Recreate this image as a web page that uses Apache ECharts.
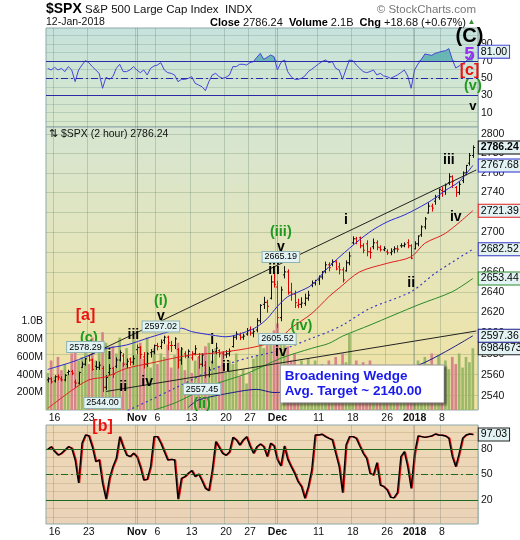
<!DOCTYPE html>
<html><head><meta charset="utf-8">
<script src="https://cdn.jsdelivr.net/npm/echarts@6/dist/echarts.min.js"></script>
<style>html,body{margin:0;padding:0;background:#fff}#c{width:520px;height:540px}</style>
</head><body><div id="c"></div>
<script>
// ---------- DATA ----------
const days = ['10/13','10/16','10/17','10/18','10/19','10/20','10/23','10/24','10/25','10/26','10/27','10/30','10/31',
 '11/01','11/02','11/03','11/06','11/07','11/08','11/09','11/10','11/13','11/14','11/15','11/16','11/17','11/20','11/21','11/22','11/24','11/27','11/28','11/29','11/30',
 '12/01','12/04','12/05','12/06','12/07','12/08','12/11','12/12','12/13','12/14','12/15','12/18','12/19','12/20','12/21','12/22','12/26','12/27','12/28','12/29',
 '01/02','01/03','01/04','01/05','01/08','01/09','01/10','01/11','01/12'];
const halfDays = ['11/24'];
// [open, close, low, high]
const ohlc = [
[2555,2556,2553,2557],[2556,2553.2,2552,2557],
[2554,2558,2553,2559],[2558,2557.6,2555,2559.7],
[2556,2555,2554,2558],[2555,2559.4,2554,2560],
[2562,2563,2560,2564.2],[2563,2561.3,2560,2564],
[2553,2552,2547.9,2555],[2552,2562.1,2551,2562.4],
[2567,2570,2567,2572],[2570,2575.2,2569,2575.4],
[2578,2574,2573,2578.3],[2574,2565,2564.3,2575],
[2568,2567,2565,2572.4],[2567,2569.1,2565,2572],
[2566,2548,2544,2567.9],[2548,2557.2,2546,2559],
[2562,2566,2560,2569.7],[2566,2560.4,2557.4,2567],
[2568,2574,2566.8,2576],[2574,2581.1,2573,2582.9],
[2578,2570,2568,2580],[2570,2572.8,2566.6,2575],
[2575,2572,2569,2576],[2572,2575.3,2570,2578],
[2584,2586,2580,2588.4],[2586,2579.4,2575.5,2587],
[2577,2570,2566.3,2581.1],[2570,2579.9,2568,2581],
[2581,2582,2576.9,2584],[2582,2587.8,2580,2588.4],
[2588,2587,2583.8,2590],[2587,2591.1,2585,2593.3],
[2593,2596,2590,2597],[2596,2590.6,2583.9,2597],
[2588,2588,2582.2,2592],[2588,2594.4,2585,2595.5],
[2584,2574,2566.3,2585],[2574,2584.6,2570,2586],
[2580,2578,2576.2,2582],[2578,2582.3,2576.5,2583.8],
[2576,2580,2574,2582],[2580,2584.8,2579,2587.7],
[2577,2570,2566.2,2580.3],[2570,2578.9,2568,2580],
[2569,2560,2557.45,2572.6],[2560,2564.6,2558,2567],
[2572,2582,2571,2584],[2582,2585.6,2580,2590.1],
[2583,2580,2577,2583.9],[2580,2578.9,2575.6,2582],
[2579,2580,2576.5,2583],[2580,2582.1,2578,2584.6],
[2587,2596,2586.5,2597],[2596,2599,2594,2601.2],
[2598,2596,2593.7,2600],[2596,2597.1,2594,2599],
[2599,2602.4,2598,2604.4],
[2603,2600,2598,2606],[2600,2601.4,2596.4,2604],
[2603,2612,2601.2,2614],[2612,2627,2610,2627.7],
[2628,2630,2624,2634.9],[2630,2626.1,2620.3,2632],
[2634,2650,2633.3,2656],[2650,2647.6,2645,2657.7],
[2645,2615,2605.5,2650.6],[2615,2642.2,2612,2645],
[2657,2660,2654,2665.2],[2660,2639.4,2638,2662],
[2640,2638,2632,2648.7],[2638,2629.6,2624.8,2641],
[2627,2628,2624.7,2633],[2628,2629.3,2625,2634.4],
[2629,2634,2627,2638],[2634,2637,2632,2640.8],
[2647,2649,2645.3,2651],[2649,2651.5,2647,2651.6],
[2652,2655,2647.6,2656],[2655,2660,2653,2660.3],
[2661,2667,2659,2669.7],[2667,2664.1,2661,2669],
[2668,2670,2666,2671.9],[2670,2662.9,2662,2671],
[2665,2662,2658,2668.6],[2662,2652,2650,2664],
[2661,2669,2660.7,2671],[2669,2675.8,2667,2679.6],
[2689,2693,2687.9,2695],[2693,2690.2,2688,2694.5],
[2694,2686,2684,2694.8],[2686,2681.5,2679,2688],
[2688,2680,2676,2691],[2680,2679.3,2673.6,2684],
[2685,2689,2683,2692.8],[2689,2684.6,2682,2691],
[2684,2682,2680.7,2686],[2682,2683.3,2681,2685],
[2680,2679,2677.4,2682],[2679,2680.5,2677,2683],
[2682,2683,2679,2685],[2683,2682.6,2680,2686],
[2686,2686,2684.5,2688],[2686,2687.5,2685,2688.9],
[2689,2686,2684,2692],[2686,2673.6,2673,2687],
[2683,2688,2682.9,2690],[2688,2695.8,2686,2695.9],
[2697,2705,2695.5,2706],[2705,2713,2703,2714.4],
[2719,2726,2719,2729.3],[2726,2724,2721,2728],
[2731,2735,2727.9,2737],[2735,2743.2,2733,2743.4],
[2742,2741,2736,2745],[2741,2747.7,2738,2748.5],
[2750,2756,2748,2759.1],[2756,2751.3,2745,2757],
[2745,2740,2736,2746],[2740,2748.2,2738,2750.8],
[2752,2760,2750,2761],[2760,2767.6,2758,2767.8],
[2770,2778,2768,2780],[2778,2786.24,2776,2787.9]
];
// volume in millions
const volumeM = [
420,560, 380,600, 450,520, 400,640, 700,560, 600,780,
520,820, 560,700, 880,760, 600,720, 640,820,
540,700, 480,800, 620,760, 580,820, 480,700,
520,640, 600,740, 480,620, 760,680, 450,600,
420,560, 600,640, 720,760, 560,700, 500,660,
420,560, 520,640, 380,460, 300,
420,580, 620,760, 700,800, 820,900, 980,800,
760,720, 560,640, 480,560, 460,580, 420,560,
380,520, 420,560, 400,600, 460,640, 540,860,
440,560, 400,540, 420,560, 380,500, 300,420,
220,320, 240,340, 220,300, 260,420,
420,560, 480,600, 520,640, 480,620,
420,560, 460,600, 520,640, 480,600, 540,698.467328
];
const rsi = [
61.6,59.7,62.8,59.7,61.6,57.8,63.6,59.7,46.1,59.7,
65.5,70.5,68.2,63.6,59.7,55.8,38.4,51.2,48.8,51.9,
61.6,66.3,57.8,57.8,59.7,63.6,59.7,56.6,59.7,53.9,
61.6,64.3,65.5,68.2,59.7,56.6,55.8,53.9,46.1,48.8,
48.8,50,51.9,44.2,42.2,40.3,35.6,46.1,53.9,55.8,
51.9,50,51.2,53.9,63.6,63.6,66.3,66.3,65.5,68.2,
69.4,74.4,79,72.1,74.4,77.1,75.2,59.7,68.2,71.3,
57.8,51.9,48.8,48.8,50,52.7,57.8,60.5,63.6,66.7,
69.4,71.3,68.2,69.4,61.6,59.7,48.8,60.5,71.3,70.5,
65.5,61.6,57.8,56.6,57.8,59.7,53.9,55.8,52.7,51.9,
50,51.9,53.9,56.6,59.7,52.7,38.4,59.7,66.7,72.1,
78.3,77.5,76.7,79,80.2,81.4,82.1,84.5,72,62,
64.3,67.4,69.4,74.4,81
];
const stoch = [
79.6,82.7,76.9,72.9,74.9,78.8,82.7,80.8,67.1,40,
86.7,96.5,95.3,82.7,65.1,67.1,39.6,21,45.5,59.2,
69,94.5,82.7,72.9,71,74.9,71,59.2,43.5,44.3,
59.2,94.5,94.5,86.7,76.9,67.1,67.8,67.1,21,45.5,
47.5,51.4,54.5,47.5,50.6,42.7,33.7,31,55.3,88.6,
82,74.9,72.5,76.5,93.7,90.6,84.7,90.6,94.5,83.5,
74.9,82.7,85.9,82.7,71,86.7,83.5,67.1,60,83.5,
67.8,59.2,51.4,41.6,35.7,22,35.7,55.3,96.5,96.5,
97.3,94.5,92.5,90.6,74.9,59.2,28.6,84.7,94.5,94.5,
92.5,83.5,74.9,69,51.4,49.4,63.9,37.6,35.7,31.8,
23.1,22.7,28.6,71,76.9,59.2,33.7,74.9,95.3,94.5,
93.7,94.5,95.3,97.6,96.5,96.1,95.3,92.5,71,59.2,
74.9,92.5,96.5,97.6,97.03
];
// moving averages: [bar index, value]
const ma20 = [[0,2565],[7,2572],[11,2577],[17,2585],[23,2588.5],[30,2596],[35,2601],[39,2604.7],[42,2601.4],[48,2598],[52,2596.4],[58,2601.4],[61,2606],[64,2614],[67,2626],[70,2635.5],[73,2640],[77,2647],[82,2665],[88,2683.5],[94,2700],[99,2710],[104,2717],[108,2724],[112,2732],[116,2742],[120,2751],[124,2767.68]];
const ma50 = [[0,2528],[7,2545],[12,2555],[17,2558],[23,2566],[30,2571],[37,2576],[42,2579],[48,2580.5],[58,2585],[67,2593],[71,2605],[77,2619],[82,2635.5],[85,2644],[91,2660],[99,2668.5],[106,2675],[110,2688.5],[116,2698.5],[124,2721.39]];
const ma100 = [[22,2524],[30,2536],[37,2547],[42,2555],[48,2565],[58,2575.7],[68,2583.6],[77,2595],[82,2601.4],[86,2607.8],[94,2624],[106,2640.4],[113,2658.6],[124,2682.52]];
const ma150 = [[31,2526.5],[37,2533],[42,2540.7],[48,2550],[58,2561],[68,2575.7],[77,2585.3],[82,2590],[86,2597],[94,2607.8],[108,2627.4],[118,2640.4],[124,2653.44]];
const ma200 = [[41,2529],[44,2536],[54,2543],[61,2546],[66,2543],[74,2545],[85,2552],[97,2560],[108,2569],[116,2582],[124,2597.36]];
const upperTrend = [[12,2578.29],[125,2763]];
const lowerTrend = [[17,2544],[125,2602]];
// ticks
const priceTicks = [2540,2560,2580,2600,2620,2640,2660,2680,2700,2720,2740,2760,2780,2800];
const volumeTicks = [200,400,600,800,1000];
const rsiLabels = [10,30,50,70,90];
const stochLabels = [20,50,80];
const gridSteps = [0,10,20,30,40,50,60,70,80,90,100];
const dateTicks = [['10/16','16'],['10/23','23'],['11/01','Nov',1],['11/06','6'],['11/13','13'],['11/20','20'],['11/27','27'],['12/01','Dec',1],['12/11','11'],['12/18','18'],['12/26','26'],['01/02','2018',1],['01/08','8']];
const monthStarts = ['11/01','12/01','01/02'];
// annotations: [text, bar index, value, style]
const mainNotes = [
 ['[a]',11.2,2617.1,'red'],['(c)',11.75,2595.7,'grn'],['2578.29',11.2,2586.5,'box'],
 ['iii',25.2,2598.1,'blk'],['(i)',33.3,2631.2,'grn'],['v',32.9,2616.1,'blk'],['2597.02',33.3,2606.4,'box'],
 ['i',17.6,2578.9,'blk'],['ii',21.7,2548.2,'blk'],['iv',28.7,2553,'blk'],['2544.00',16.3,2533.1,'box'],
 ['i',48.2,2593.3,'blk'],['ii',51.7,2567.3,'blk'],['2557.45',45,2546.3,'box'],['(ii)',45,2532.2,'grn'],
 ['(iii)',67.6,2700.3,'grn'],['v',68,2684.3,'blk'],['2665.19',68.3,2674.8,'box'],['iii',66,2661.9,'blk'],
 ['2605.52',66.9,2594.3,'box'],['iv',67.5,2581.8,'blk'],['(iv)',74.3,2606.9,'grn'],
 ['i',87.3,2712,'blk'],['ii',106,2649,'blk'],['iii',117,2773.3,'blk'],['iv',118.6,2715,'blk']
];
const rsiNotes = [['(C)',122.6,99.2,'bigC'],['5',122.6,77.1,'purple'],['[c]',122.6,58.5,'red'],['(v)',124,40.5,'grn'],['v',124,17.8,'blkS']];
const stochNotes = [['[b]',16.3,106.5,'red']];
const wedgeNote = {lines:['Broadening Wedge','Avg. Target ~ 2140.00'], idx:68.2, value:2551.2};

// ---------- BUILD ----------
const categories = [];
days.forEach(d => { categories.push(d+' AM'); if (halfDays.indexOf(d) < 0) categories.push(d+' PM'); });
categories.push('');
const tickIdx = new Map();
dateTicks.forEach(t => tickIdx.set(categories.indexOf(t[0]+' AM'), t));
const isTick = i => tickIdx.has(i);
const L = Math.log;
const up = ohlc.map((d,i) => d[1] >= (i ? ohlc[i-1][1] : d[0]));
const FONT = 'Liberation Sans, Arial, sans-serif';

const styles = {
 blk:{color:'#000',fontWeight:'bold',fontSize:14},
 blkS:{color:'#000',fontWeight:'bold',fontSize:13},
 grn:{color:'#1f9a1f',fontWeight:'bold',fontSize:14.5},
 red:{color:'#ee1111',fontWeight:'bold',fontSize:16},
 purple:{color:'#9b30ee',fontWeight:'bold',fontSize:19},
 bigC:{color:'#000',fontWeight:'bold',fontSize:20},
 box:{color:'#000',fontSize:9,backgroundColor:'#e2f3f3',borderColor:'#8fb3b3',borderWidth:1,padding:[1,2,0,2]}
};
function note(text, idx, val, st) {
 return {coord:[idx, val], symbol:'rect', symbolSize:1, itemStyle:{color:'rgba(0,0,0,0)'},
  label:Object.assign({show:true, position:'inside', formatter:text, fontFamily:FONT}, styles[st])};
}
function rightBox(idx, val, text, border, bold) {
 return {coord:[idx, val], symbol:'rect', symbolSize:1, itemStyle:{color:'rgba(0,0,0,0)'},
  label:{show:true, position:'right', distance:2, formatter:text, fontFamily:FONT, fontSize:10.5, fontWeight:bold?'bold':'normal',
   color:'#000', backgroundColor:'#e3f3f3', borderColor:border, borderWidth:1, padding:[1,2,0,2], lineHeight:11}};
}
const grad = (stops) => new echarts.graphic.LinearGradient(0,0,0,1, stops.map((c,i)=>({offset:i/(stops.length-1), color:c})));
const BORDER = '#8ea9a9';
const grids = [
 {left:46, right:42, top:28, height:99, show:true, backgroundColor:grad(['#c6e2dc','#d9e8cb']), borderColor:BORDER, borderWidth:1},
 {left:46, right:42, top:127, height:283, show:true, backgroundColor:grad(['#d6e5d1','#e6e5b9','#f1e2a0']), borderColor:BORDER, borderWidth:1},
 {left:46, right:42, top:425, height:99, show:true, backgroundColor:grad(['#eed9b7','#ead3b8']), borderColor:BORDER, borderWidth:1},
 {left:47, right:41, top:425, height:99, show:false}
];
function xAx(gi, showLabel, showSplit) {
 return {type:'category', gridIndex:gi, data:categories, boundaryGap:true,
  axisLine:{show:false}, axisTick:{show:false},
  axisLabel:{show:showLabel, interval:(i)=>isTick(i), margin:3, fontSize:10.5, color:'#111', fontFamily:FONT,
   formatter:(v,i)=>{ const t = tickIdx.get(categories.indexOf(v)); if(!t) return ''; return t[2] ? '{b|'+t[1]+'}' : t[1]; },
   rich:{b:{fontWeight:'bold', fontSize:10.5, color:'#111', fontFamily:FONT}}},
  splitLine:{show:showSplit, interval:(i)=>isTick(i), lineStyle:{color:'rgba(100,130,110,0.3)', width:1}}};
}
const xAxes = [xAx(0,false,true), xAx(1,true,true), xAx(2,true,true), Object.assign(xAx(3,false,false),{show:false})];
const yAxes = [
 {type:'value', gridIndex:0, position:'right', min:-6.6, max:108.5,
  axisLine:{show:false}, axisTick:{show:false, customValues:gridSteps},
  axisLabel:{customValues:rsiLabels, fontSize:10.5, color:'#111', margin:3, fontFamily:FONT},
  splitLine:{show:true, lineStyle:{color:'rgba(110,150,140,0.3)'}}},
 {type:'value', gridIndex:1, position:'right', min:L(2526.5), max:L(2807.6),
  axisLine:{show:false}, axisTick:{show:false, customValues:priceTicks.map(L)},
  axisLabel:{customValues:priceTicks.map(L), formatter:v=>String(Math.round(Math.exp(v))), fontSize:10.5, color:'#111', margin:3, fontFamily:FONT},
  splitLine:{show:true, lineStyle:{color:'rgba(110,140,100,0.3)'}}},
 {type:'value', gridIndex:1, position:'left', min:0, max:3200,
  axisLine:{show:false}, axisTick:{show:false, customValues:volumeTicks},
  axisLabel:{customValues:volumeTicks, formatter:v=> v>=1000 ? (v/1000).toFixed(1)+'B' : v+'M', fontSize:10.5, color:'#111', margin:3, fontFamily:FONT},
  splitLine:{show:false}},
 {type:'value', gridIndex:2, position:'right', min:-8.2, max:108.2,
  axisLine:{show:false}, axisTick:{show:false, customValues:gridSteps},
  axisLabel:{customValues:stochLabels, fontSize:10.5, color:'#111', margin:3, fontFamily:FONT},
  splitLine:{show:true, lineStyle:{color:'rgba(170,140,100,0.3)'}}},
 {type:'value', gridIndex:3, show:false, min:-8.2, max:108.2, splitLine:{show:false}}
];
const monthLines = (color) => ({silent:true, symbol:['none','none'], label:{show:false},
  lineStyle:{color:color, width:1, type:'solid'}, data:monthStarts.map(m=>({xAxis:m+' AM'}))});
const lineS = (name, data, color, extra) => Object.assign({name, type:'line', xAxisIndex:1, yAxisIndex:1,
  data:data.map(p=>[p[0], L(p[1])]), symbol:'none', smooth:0.3, lineStyle:{color, width:1}, z:4, silent:true}, extra||{});

const series = [
 {type:'line', xAxisIndex:0, yAxisIndex:0, data:rsi.map(v=>Math.max(v,70)), symbol:'none', silent:true,
  lineStyle:{width:0}, areaStyle:{origin:70, color:'#5fb0b0', opacity:0.9}, z:2},
 {type:'line', xAxisIndex:0, yAxisIndex:0, data:rsi, symbol:'none', silent:true, lineStyle:{color:'#4545dc', width:1}, z:3,
  markLine:{silent:true, symbol:['none','none'], label:{show:false}, lineStyle:{color:'#2a2aa8', width:1.2, type:'solid'},
   data:[{yAxis:70},{yAxis:30},{yAxis:50, lineStyle:{type:[7,3,2,3]}}].concat(monthStarts.map(m=>({xAxis:m+' AM', lineStyle:{color:'rgba(90,110,100,0.35)', width:1}})))},
  markPoint:{silent:true, data:[rightBox(125,81,'81.00','#3b3bd8',false)].concat(rsiNotes.map(n=>note(n[0],n[1],n[2],n[3])))}},
 {type:'bar', xAxisIndex:1, yAxisIndex:2, barCategoryGap:'22%', silent:true, z:1,
  data:volumeM.map((v,i)=>({value:v, itemStyle:{color: up[i] ? '#9bb768' : '#d6858a'}})),
  markPoint:{silent:true, data:[rightBox(125, volumeM[volumeM.length-1], String(Math.round(volumeM[volumeM.length-1]*1e6)), '#222', false)]}},
 {type:'custom', xAxisIndex:1, yAxisIndex:1, z:3, silent:true, clip:true,
  data:ohlc.map((d,i)=>[i, L(d[0]), L(d[1]), L(d[2]), L(d[3]), up[i]?1:0]),
  encode:{x:0, y:[1,2,3,4]},
  renderItem:function(params, api){
   const x = api.value(0);
   const pO = api.coord([x, api.value(1)]), pC = api.coord([x, api.value(2)]);
   const pL = api.coord([x, api.value(3)]), pH = api.coord([x, api.value(4)]);
   const w = Math.max(1, api.size([1,0])[0]*0.45);
   const col = api.value(5) ? '#111' : '#e00000';
   const cx = Math.round(pH[0]) + 0.5;
   const st = {stroke:col, lineWidth:1};
   return {type:'group', children:[
    {type:'line', shape:{x1:cx, y1:pH[1]-0.5, x2:cx, y2:pL[1]+0.5}, style:st},
    {type:'line', shape:{x1:cx-w, y1:pO[1], x2:cx, y2:pO[1]}, style:st},
    {type:'line', shape:{x1:cx, y1:pC[1], x2:cx+w, y2:pC[1]}, style:st}]};
  },
  markLine: monthLines('rgba(90,110,100,0.4)'),
  markPoint:{silent:true, data:[rightBox(125, L(ohlc[ohlc.length-1][1]), ohlc[ohlc.length-1][1].toFixed(2), '#000', true)]}},
 lineS('ma200', ma200, '#1a1a8a', {markPoint:{silent:true, data:[rightBox(125, L(2597.36), '2597.36', '#1a1a8a')]}}),
 lineS('ma150', ma150, '#2a8a2a', {markPoint:{silent:true, data:[rightBox(125, L(2653.44), '2653.44', '#2a8a2a')]}}),
 lineS('ma100', ma100, '#3838c4', {lineStyle:{color:'#3838c4', width:1.2, type:[2,3]}, markPoint:{silent:true, data:[rightBox(125, L(2682.52), '2682.52', '#3838c4')]}}),
 lineS('ma50', ma50, '#e02020', {markPoint:{silent:true, data:[rightBox(125, L(2721.39), '2721.39', '#e02020')]}}),
 lineS('ma20', ma20, '#2b2bd0', {markPoint:{silent:true, data:[rightBox(125, L(2767.68), '2767.68', '#2b2bd0')]}}),
 lineS('lower', lowerTrend, '#222', {smooth:false}),
 lineS('upper', upperTrend, '#222', {smooth:false, z:6,
  markPoint:{silent:true, z:8, data: mainNotes.map(n=>note(n[0],n[1],L(n[2]),n[3])).concat([{
   coord:[wedgeNote.idx, L(wedgeNote.value)], symbol:'rect', symbolSize:1, itemStyle:{color:'rgba(0,0,0,0)'},
   label:{show:true, position:'inside', align:'left', verticalAlign:'middle', formatter:wedgeNote.lines.join('\n'),
    fontFamily:FONT, fontSize:13.5, fontWeight:'bold', color:'#1a1aee', lineHeight:15,
    backgroundColor:'#fff', borderColor:'#999', borderWidth:1, padding:[4,22,3,4],
    shadowColor:'rgba(0,0,0,0.35)', shadowBlur:2, shadowOffsetX:2, shadowOffsetY:2}}])}}),
 {type:'line', xAxisIndex:3, yAxisIndex:4, data:stoch, symbol:'none', silent:true, lineStyle:{color:'#e01010', width:1.4}, z:2},
 {type:'line', xAxisIndex:2, yAxisIndex:3, data:stoch, symbol:'none', silent:true, lineStyle:{color:'#000', width:1.4}, z:3,
  markLine:{silent:true, symbol:['none','none'], label:{show:false}, lineStyle:{color:'#1d6a1d', width:1.2, type:'solid'},
   data:[{yAxis:80},{yAxis:20},{yAxis:50, lineStyle:{type:[7,3,2,3]}}].concat(monthStarts.map(m=>({xAxis:m+' AM', lineStyle:{color:'rgba(120,110,90,0.35)', width:1}})))},
  markPoint:{silent:true, data:[rightBox(125,97.03,'97.03','#222',false)].concat(stochNotes.map(n=>note(n[0],n[1],n[2],n[3])))}}
];

const graphic = [
 {type:'text', x:46, y:9.5, style:{text:'$SPX', font:'bold 14px '+FONT, fill:'#000', align:'left', verticalAlign:'middle'}},
 {type:'text', x:85, y:10, style:{text:'S&P 500 Large Cap Index  INDX', font:'11.5px '+FONT, fill:'#111', align:'left', verticalAlign:'middle'}},
 {type:'text', x:476, y:10, style:{text:'\u00A9 StockCharts.com', font:'11.5px '+FONT, fill:'#777', align:'right', verticalAlign:'middle'}},
 {type:'text', x:46, y:22.5, style:{text:'12-Jan-2018', font:'10.5px '+FONT, fill:'#111', align:'left', verticalAlign:'middle'}},
 {type:'text', x:466, y:22.5, style:{text:'{b|Close} 2786.24  {b|Volume} 2.1B  {b|Chg} +18.68 (+0.67%)', font:'11px '+FONT, fill:'#111', align:'right', verticalAlign:'middle',
   rich:{b:{font:'bold 11px '+FONT, fill:'#000'}}}},
 {type:'text', x:471.5, y:22, style:{text:'\u25B2', font:'8px '+FONT, fill:'#3a8a3a', align:'center', verticalAlign:'middle'}},
 {type:'text', x:49, y:134, z:10, style:{text:'\u21C5 $SPX (2 hour) 2786.24', font:'10.5px '+FONT, fill:'#111', align:'left', verticalAlign:'middle'}}
];

const chart = echarts.init(document.getElementById('c'), null, {renderer:'canvas', width:520, height:540});
chart.setOption({animation:false, backgroundColor:'#fff', textStyle:{fontFamily:FONT},
 grid:grids, xAxis:xAxes, yAxis:yAxes, series, graphic});
</script></body></html>
